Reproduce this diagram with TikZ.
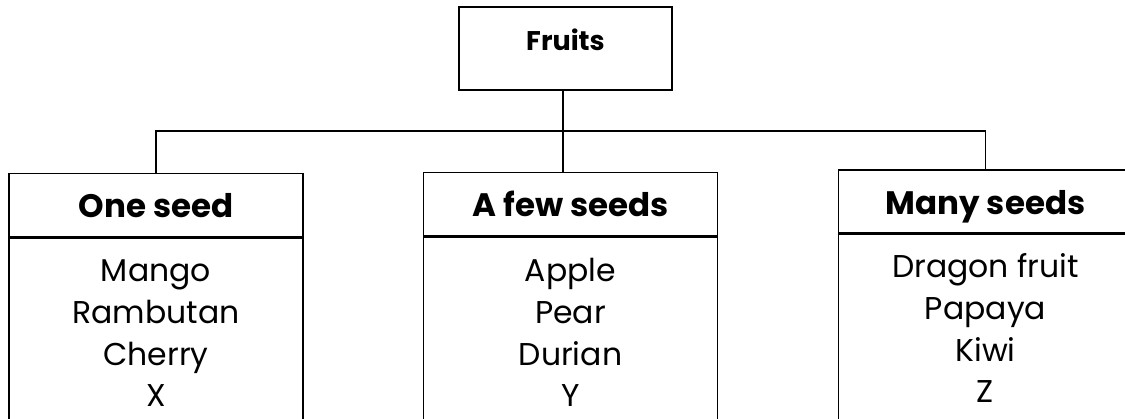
\documentclass[tikz,border=0pt]{standalone}
\usepackage{fontspec}
\setmainfont{Poppins}
\begin{document}
\begin{tikzpicture}[x=1pt,y=-1pt,
  frame/.style={draw=black,line width=1.6pt,rectangle,inner sep=0pt},
  head/.style={frame,minimum width=294pt,minimum height=63pt,text height=30pt,text depth=4pt,font=\fontsize{32.5}{34}\selectfont\bfseries},
  body/.style={frame,minimum width=294pt,minimum height=200pt},
  items/.style={align=center,anchor=base,inner sep=0pt,font=\fontsize{31.5}{41.7}\selectfont},
  wire/.style={line width=1.6pt}]
\useasboundingbox (0,0) rectangle (1125,419);
\clip (0,0) rectangle (1125,419);

% top category
\node[frame,minimum width=213pt,minimum height=83pt,text height=20pt,text depth=15pt,font=\fontsize{27}{28}\selectfont\bfseries] (fruits) at (565.5,48.5) {Fruits};

% three groups: heading box and list box (list anchored at its last line)
\node[head] (h1) at (156,205) {One seed};
\node[body,anchor=north] (b1) at (h1.south) {};
\node[items] (t1) at (156,407) {Mango\\Rambutan\\Cherry\\X};

\node[head] (h2) at (570.5,204) {A few seeds};
\node[body,anchor=north] (b2) at (h2.south) {};
\node[items] (t2) at (570.5,407) {Apple\\Pear\\Durian\\Y};

\node[head] (h3) at (985.5,201.5) {Many seeds};
\node[body,anchor=north] (b3) at (h3.south) {};
\node[items] (t3) at (985.5,403) {Dragon fruit\\Papaya\\Kiwi\\Z};

% connectors
\coordinate (j) at (563,131);
\draw[wire] (j |- fruits.south) -- (j);
\draw[wire] (h1.north) |- (j) -| (h3.north);
\draw[wire] (j) -- (j |- h2.north);
\end{tikzpicture}
\end{document}
